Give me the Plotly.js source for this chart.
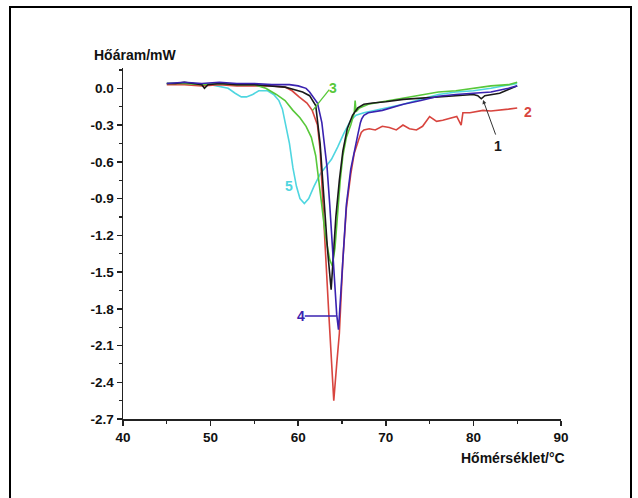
<!DOCTYPE html>
<html>
<head>
<meta charset="utf-8">
<script src="https://cdn.plot.ly/plotly-3.0.1.min.js"></script>
<style>
html,body{margin:0;padding:0;background:#fff;}
#chart{width:638px;height:498px;}
#chart .xtick text, #chart .ytick text{font-weight:bold !important;}
</style>
</head>
<body>
<div id="chart"></div>
<script>
// Curve 1 (black)
const x1 = [45, 46, 47, 48, 49, 49.3, 49.7, 51, 53, 55, 57, 58.5, 59.5, 60.5, 61.3, 62.0, 62.5, 62.9, 63.35, 63.76, 64.0, 64.3, 64.7, 65.1, 65.6, 66.2, 66.8, 67.5, 68.5, 70, 72, 74, 76, 78, 80, 80.5, 80.9, 81.3, 82, 83, 84, 85];
const y1 = [0.04, 0.04, 0.05, 0.04, 0.03, 0.0, 0.03, 0.04, 0.03, 0.03, 0.02, 0.01, -0.01, -0.03, -0.06, -0.14, -0.45, -0.9, -1.32, -1.645, -1.4, -1.05, -0.75, -0.51, -0.33, -0.22, -0.16, -0.13, -0.12, -0.11, -0.09, -0.08, -0.065, -0.06, -0.05, -0.06, -0.085, -0.06, -0.05, -0.04, -0.01, 0.02];
// Curve 2 (red)
const x2 = [45, 47, 49, 51, 53, 55, 57, 58.5, 59.3, 60.1, 61.0, 61.6, 62.2, 62.5, 62.8, 63.1, 63.5, 63.8, 64.06, 64.4, 64.7, 65.1, 65.5, 66.0, 66.4, 66.9, 67.2, 67.5, 68.1, 68.8, 69.6, 70.4, 71.2, 71.96, 72.7, 73.5, 74.2, 75.0, 75.8, 76.5, 77.3, 78.1, 78.6, 78.8, 79.6, 80.3, 81.1, 82.0, 83.0, 84.0, 85.0];
const y2 = [0.03, 0.03, 0.02, 0.03, 0.02, 0.02, 0.02, 0.01, -0.02, -0.07, -0.12, -0.18, -0.3, -0.5, -0.95, -1.32, -1.85, -2.2, -2.55, -2.25, -2.0, -1.4, -0.98, -0.7, -0.53, -0.42, -0.36, -0.34, -0.33, -0.34, -0.31, -0.32, -0.34, -0.30, -0.33, -0.34, -0.31, -0.23, -0.27, -0.26, -0.245, -0.23, -0.30, -0.20, -0.20, -0.19, -0.18, -0.185, -0.18, -0.17, -0.16];
// Curve 3 (green)
const x3 = [45, 47, 49, 51, 53, 55, 56.3, 57.5, 58.5, 59.4, 60.2, 60.9, 61.5, 62.0, 62.6, 63.1, 63.6, 63.9, 64.2, 64.5, 64.8, 65.1, 65.5, 66.0, 66.4, 66.5, 66.6, 67.0, 68.0, 69.6, 72, 74, 76, 78, 80, 82, 84, 85];
const y3 = [0.04, 0.04, 0.03, 0.04, 0.03, 0.03, 0.0, -0.05, -0.1, -0.18, -0.24, -0.31, -0.4, -0.55, -0.9, -1.2, -1.4, -1.45, -1.3, -1.0, -0.75, -0.55, -0.4, -0.3, -0.2, -0.1, -0.19, -0.16, -0.13, -0.11, -0.08, -0.05, -0.03, -0.02, 0.0, 0.02, 0.03, 0.05];
// Curve 4 (blue)
const x4 = [45, 47, 49, 51, 53, 55, 57, 59, 60, 60.9, 61.3, 61.7, 62.2, 62.7, 63.0, 63.3, 63.6, 63.95, 64.4, 64.6, 64.8, 65.1, 65.5, 66.0, 66.4, 66.8, 67.1, 67.25, 67.5, 68.0, 69.6, 72, 74, 76, 78, 80, 82, 84, 85];
const y4 = [0.04, 0.05, 0.04, 0.05, 0.04, 0.04, 0.03, 0.03, 0.02, 0.0, -0.03, -0.07, -0.12, -0.28, -0.45, -0.65, -0.95, -1.32, -1.85, -1.97, -1.75, -1.35, -0.95, -0.66, -0.51, -0.38, -0.28, -0.25, -0.22, -0.2, -0.18, -0.13, -0.1, -0.065, -0.05, -0.04, -0.03, 0.0, 0.02];
// Curve 5 (cyan)
const x5 = [45, 48, 50, 52, 52.8, 53.5, 54.1, 54.8, 55.5, 56.5, 57.2, 57.8, 58.2, 58.6, 59.0, 59.4, 59.8, 60.2, 60.7, 61.2, 61.8, 62.5, 63.2, 63.8, 64.5, 65.2, 66.0, 66.6, 67.5, 69.6, 72, 74, 76, 78, 80, 82, 84, 85];
const y5 = [0.04, 0.04, 0.03, 0.0, -0.04, -0.07, -0.07, -0.05, -0.02, -0.02, -0.05, -0.1, -0.17, -0.3, -0.45, -0.65, -0.8, -0.9, -0.94, -0.9, -0.8, -0.7, -0.63, -0.58, -0.48, -0.37, -0.26, -0.22, -0.2, -0.17, -0.13, -0.09, -0.05, -0.03, -0.02, 0.0, 0.03, 0.04];

const xTickVals = [40, 50, 60, 70, 80, 90];
const xTickText = ["40", "50", "60", "70", "80", "90"];
const yTickVals = [0.0, -0.3, -0.6, -0.9, -1.2, -1.5, -1.8, -2.1, -2.4, -2.7];
const yTickText = ["0.0", "-0.3", "-0.6", "-0.9", "-1.2", "-1.5", "-1.8", "-2.1", "-2.4", "-2.7"];

const labelNames = ["1", "2", "3", "4", "5"];
const labelX = [82.8, 86.2, 64.0, 60.3, 59.0];
const labelY = [-0.47, -0.19, 0.0, -1.86, -0.8];

const colors = ["#1a1a1a", "#d8453f", "#58c83a", "#3a22b0", "#4fd6e0"];
const font = "Liberation Sans, Arial, sans-serif";
const bold = s => "<b>" + s + "</b>";

const series = [[x1, y1], [x2, y2], [x3, y3], [x4, y4], [x5, y5]];
const drawOrder = [4, 1, 2, 0, 3];
const traces = drawOrder.map(i => ({
  x: series[i][0], y: series[i][1], type: "scatter", mode: "lines",
  line: {color: colors[i], width: 1.6}, hoverinfo: "skip", showlegend: false
}));

const annotations = labelNames.map((t, i) => ({
  x: labelX[i], y: labelY[i], xref: "x", yref: "y", text: bold(t),
  showarrow: false, font: {family: font, size: 14, color: colors[i]}
}));
// arrow for label 1
annotations.push({x: 81.1, y: -0.095, ax: 82.6, ay: -0.39, axref: "x", ayref: "y",
  xref: "x", yref: "y", text: "", showarrow: true, arrowhead: 2, arrowsize: 0.8,
  arrowwidth: 1, arrowcolor: "#333"});
// axis titles
annotations.push({x: 92, y: 55, xref: "paper", yref: "paper", text: bold("Hőáram/mW"),
  showarrow: false, xanchor: "left", yanchor: "middle", font: {family: font, size: 14, color: "#111"}});
annotations.push({x: 567, y: 458, xref: "paper", yref: "paper", text: bold("Hőmérséklet/°C"),
  showarrow: false, xanchor: "right", yanchor: "middle", font: {family: font, size: 14, color: "#111"}});

// convert pixel-placed annotations to paper coords
const L = 123, R = 77, T = 68, B = 79, W = 638, H = 498;
const pw = W - L - R, ph = H - T - B;
annotations.forEach(a => {
  if (a.xref === "paper") {
    a.x = (a.x - L) / pw;
    a.y = (H - B - a.y) / ph;
  }
});

const shapes = [
  {type: "line", xref: "x", yref: "y", x0: 61.65, y0: -0.18, x1: 63.55, y1: -0.01,
   line: {color: colors[2], width: 1.3}},
  {type: "line", xref: "x", yref: "y", x0: 60.75, y0: -1.86, x1: 64.35, y1: -1.86,
   line: {color: colors[3], width: 1.5}},
  {type: "rect", xref: "paper", yref: "paper",
   x0: (10 - L) / pw, x1: (631 - L) / pw, y0: (H - B - 505) / ph, y1: (H - B - 7) / ph,
   line: {color: "#000", width: 2}, fillcolor: "rgba(0,0,0,0)"}
];

const tickFont = {family: font, size: 13.5, color: "#111", weight: 700};

const layout = {
  width: W, height: H,
  margin: {l: L, r: R, t: T, b: B},
  paper_bgcolor: "#fff", plot_bgcolor: "#fff",
  showlegend: false,
  xaxis: {
    range: [40, 90], showgrid: false, zeroline: false, showline: true,
    linecolor: "#222", linewidth: 1.5, ticks: "outside", ticklen: 5, tickwidth: 1.5,
    tickcolor: "#222", tickvals: xTickVals, ticktext: xTickText.map(bold),
    tickfont: tickFont,
    minor: {dtick: 5, ticks: "outside", ticklen: 3, tickwidth: 1.2, tickcolor: "#222", showgrid: false},
    fixedrange: true
  },
  yaxis: {
    range: [-2.7, 0.166], showgrid: false, zeroline: false, showline: true,
    linecolor: "#222", linewidth: 1.5, ticks: "outside", ticklen: 5, tickwidth: 1.5,
    tickcolor: "#222", tickvals: yTickVals, ticktext: yTickText.map(bold),
    tickfont: tickFont,
    minor: {dtick: 0.15, tick0: 0, ticks: "outside", ticklen: 3, tickwidth: 1.2, tickcolor: "#222", showgrid: false},
    fixedrange: true
  },
  annotations: annotations,
  shapes: shapes
};

Plotly.newPlot("chart", traces, layout, {staticPlot: true, displayModeBar: false});
</script>
</body>
</html>
